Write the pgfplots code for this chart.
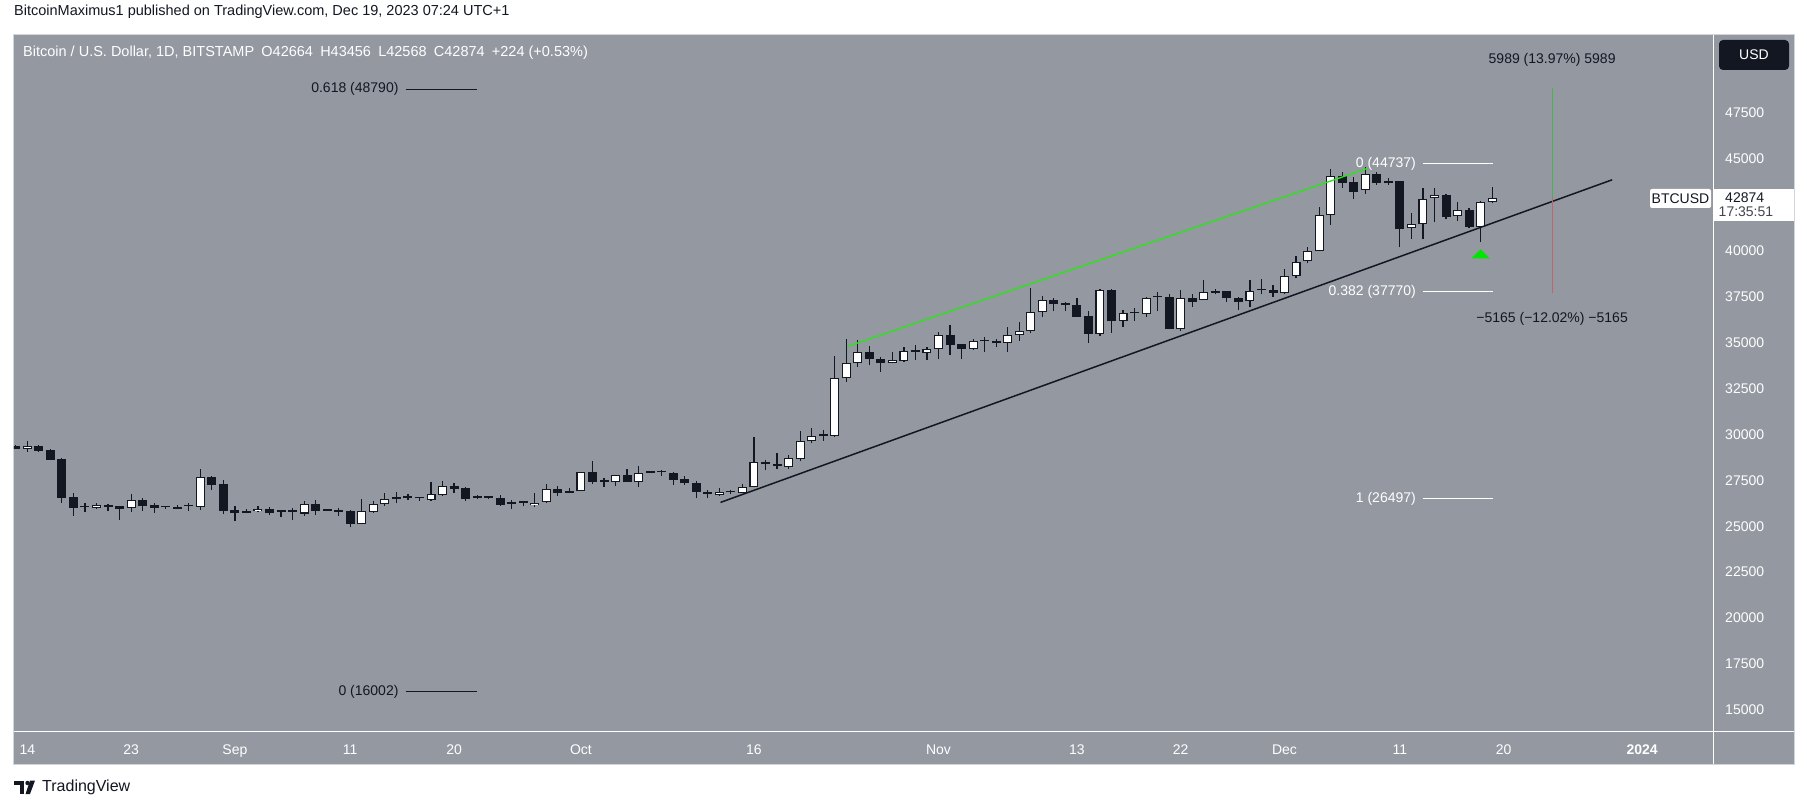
\documentclass[border=0pt]{standalone}
\usepackage{fontspec}
\setmainfont{Liberation Sans}
\usepackage{pgfplots}
\pgfplotsset{compat=1.18}
\usepackage{pgfplotstable}

\definecolor{bg}{RGB}{148,152,161}
\definecolor{cdark}{RGB}{19,23,34}
\definecolor{lime}{RGB}{40,230,20}
\definecolor{tri}{RGB}{0,230,0}
\definecolor{mgreen}{RGB}{76,175,80}
\definecolor{mred}{RGB}{190,100,110}
\definecolor{frame}{RGB}{209,212,220}
\newcommand\ft{\fontsize{14}{16}\selectfont}
\newcommand\fth{\fontsize{14.5}{16}\selectfont}

\pgfplotstableread{
d o h l c
0 29220 29620 29060 29350
6 26010 26260 25940 26140
9 26010 26750 25770 26430
15 26060 28110 25880 27660
20 25810 26080 25760 25940
24 25690 26370 25570 26190
29 25100 26480 25100 25830
30 25790 26370 25740 26190
31 26190 26810 26120 26460
32 26460 26860 26250 26570
35 26430 27410 26390 26740
36 26720 27460 26630 27170
44 26140 26810 26060 26280
45 26300 27300 26250 27010
48 26900 27970 26900 27930
51 27390 27770 27210 27770
53 27390 28280 27150 27880
60 26680 27060 26630 26840
62 26790 27300 26790 27120
63 27120 29870 27120 28480
66 28240 28880 28130 28700
67 28680 30180 28570 29620
68 29620 30350 29510 29890
70 29930 34270 29880 33050
71 33050 35190 32870 33870
72 33870 35120 33690 34470
75 33870 34480 33870 34030
76 34010 34770 33960 34520
78 34450 34740 34070 34630
79 34630 35570 34120 35390
82 34670 35210 34590 35060
85 34990 35830 34500 35390
86 35390 36100 35100 35610
87 35610 37950 35500 36640
88 36640 37530 36370 37300
93 35480 37930 35370 37840
95 36170 36770 35860 36590
97 36530 37500 36410 37400
100 35720 37860 35650 37400
102 37310 38400 37310 37730
106 37260 38400 36920 37790
109 37680 39000 37620 38640
110 38640 39710 38530 39400
111 39420 40180 39310 39960
112 39960 42360 39960 41920
113 41920 44430 41420 44060
116 43290 44570 43100 44160
118 43670 43970 43590 43780
120 41220 42030 40650 41430
121 41430 43390 40620 42830
122 42850 43390 41540 43010
124 41870 42650 41630 42200
126 41310 42700 40490 42630
127 42664 43456 42568 42874
}\whitec

\pgfplotstableread{
d o h l c
-1 29370 29420 29200 29220
1 29370 29420 29040 29110
2 29150 29200 28600 28620
3 28660 28710 26280 26550
4 26590 26810 25560 26010
5 26050 26260 25770 26030
7 26150 26210 25850 26060
8 26100 26110 25360 25960
10 26430 26540 25850 26100
11 26150 26260 25740 26010
12 26030 26120 25940 26020
13 26050 26150 25950 25960
14 26100 26240 25850 26090
16 27680 27750 26970 27240
17 27300 27500 25670 25850
18 25880 26100 25300 25740
19 25830 25940 25740 25740
21 25940 26030 25610 25740
22 25830 25840 25520 25790
23 25780 25990 25360 25770
25 26210 26430 25610 25850
26 25880 25900 25830 25850
27 25880 25990 25570 25770
28 25830 25880 24940 25100
33 26570 26740 26430 26560
34 26530 26590 26370 26520
37 27190 27330 26830 27040
38 27080 27150 26390 26500
39 26540 26700 26480 26530
40 26560 26590 26500 26550
41 26540 26680 26100 26170
42 26240 26410 25960 26230
43 26280 26370 26080 26270
46 27010 27190 26650 26830
47 26920 27060 26830 26830
49 27930 28550 27320 27430
50 27440 27610 27150 27430
52 27770 28110 27390 27390
54 27930 28010 27880 27920
55 27940 28060 27720 27930
56 27880 27970 27260 27530
57 27550 27720 27260 27330
58 27330 27460 26520 26840
59 26860 26990 26550 26740
61 26860 26970 26750 26840
64 28480 28600 28060 28370
65 28370 28970 28110 28260
69 29950 30240 29660 29930
73 34470 34810 33760 34120
74 34090 34190 33410 33870
77 34520 34870 34050 34510
80 35390 35950 34340 34880
81 34900 34900 34120 34670
83 35070 35320 34480 35060
84 35000 35210 34770 34990
89 37300 37410 36700 37120
90 37080 37210 36730 37060
91 37040 37410 36370 36410
92 36440 36700 34990 35480
94 37860 37910 35540 36150
96 36590 36860 36170 36580
98 37470 37730 36730 37460
99 37460 37620 35720 35720
101 37400 37620 36920 37220
103 37820 37910 37620 37710
104 37790 37790 37190 37400
105 37400 37500 36770 37190
107 37860 38440 37620 37850
108 37860 38110 37500 37680
114 44060 44270 43430 43700
115 43720 43990 42830 43210
117 44160 44300 43590 43670
119 43780 43780 40180 41200
123 43010 43090 41710 41850
125 42200 42310 41250 41310
}\blackc

\pgfplotsset{candle/.style={draw=none, mark=none, forget plot, mark options={draw=none,fill=none},
  error bars/.cd, y dir=plus, y explicit, error mark=none}}

\begin{document}
\begin{tikzpicture}[x=1pt,y=1pt]
\path[use as bounding box] (0,0) rectangle (1807,809);
\fill[white] (0,0) rectangle (1807,809);
\fill[bg] (13.8,45) rectangle (1794,774.4);
\draw[frame, line width=1pt] (13.8,45) rectangle (1794,774.4);
\draw[white, line width=1.2pt] (1713.6,45) -- (1713.6,774.4);
\draw[white, line width=1.2pt] (13.8,77.2) -- (1794,77.2);

\node[anchor=west, inner sep=0, text=cdark, font=\fth] at (14,797.5) {BitcoinMaximus1 published on TradingView.com, Dec 19, 2023 07:24 UTC+1};
\node[anchor=west, inner sep=0, text=white, font=\fth] at (23,756) {Bitcoin / U.S. Dollar, 1D, BITSTAMP\enspace O42664\enspace H43456\enspace L42568\enspace C42874\enspace +224 (+0.53\%)};

\begin{axis}[at={(13.8pt,77.2pt)}, anchor=south west, scale only axis,
  width=1699.8pt, height=697.2pt,
  xmin=-1.17, xmax=146.2, ymin=13808, ymax=51763,
  axis line style={draw=none}, tick style={draw=none}, major tick length=0pt,
  yticklabel pos=right, scaled y ticks=false, scaled x ticks=false,
  ytick={15000,17500,20000,22500,25000,27500,30000,32500,35000,37500,40000,45000,47500},
  /pgf/number format/1000 sep={}, /pgf/number format/assume math mode=true,
  yticklabel style={anchor=west, inner sep=0pt, xshift=11.4pt, text=white, font=\ft},
  xtick={0,9,18,28,37,48,63,79,91,100,109,119,128,140},
  xticklabels={14,23,Sep,11,20,Oct,16,Nov,13,22,Dec,11,20,\textbf{2024}},
  xticklabel style={anchor=base, inner sep=0pt, yshift=-22.4pt, text=white, font=\ft},
]
% wicks
\addplot[candle, error bar style={line width=1.2pt, draw=cdark}]
  table[x=d, y=l, y error plus expr={\thisrow{h}-\thisrow{l}}] {\whitec};
\addplot[candle, error bar style={line width=1.2pt, draw=cdark}]
  table[x=d, y=l, y error plus expr={\thisrow{h}-\thisrow{l}}] {\blackc};
% bodies
\addplot[candle, error bar style={line width=9pt, draw=cdark}]
  table[x=d, y expr={min(\thisrow{o},\thisrow{c})}, y error plus expr={max(abs(\thisrow{c}-\thisrow{o}),90)}] {\blackc};
\addplot[candle, error bar style={line width=9pt, draw=cdark}]
  table[x=d, y=o, y error plus expr={max(\thisrow{c}-\thisrow{o},90)}] {\whitec};
\addplot[candle, error bar style={line width=6.8pt, draw=white}]
  table[x=d, y expr={\thisrow{o}+58}, y error plus expr={max(\thisrow{c}-\thisrow{o}-116,0)}] {\whitec};

% trend lines
\addplot[cdark, line width=1.5pt] coordinates {(60.1,26296) (137.4,43858)};
\addplot[lime, line width=1.3pt] coordinates {(71.1,34780) (116.2,44480)};

% fib levels
\addplot[cdark, line width=1.2pt] coordinates {(32.8,48790) (39.0,48790)};
\addplot[cdark, line width=1.2pt] coordinates {(32.8,16002) (39.0,16002)};
\addplot[white, line width=1.2pt] coordinates {(121.0,44737) (127.1,44737)};
\addplot[white, line width=1.2pt] coordinates {(121.0,37770) (127.1,37770)};
\addplot[white, line width=1.2pt] coordinates {(121.0,26497) (127.1,26497)};
\node[anchor=east, inner sep=0, text=cdark, font=\ft] at (axis cs:32.2,48790) {0.618 (48790)};
\node[anchor=east, inner sep=0, text=cdark, font=\ft] at (axis cs:32.2,16002) {0 (16002)};
\node[anchor=east, inner sep=0, text=white, font=\ft] at (axis cs:120.4,44737) {0 (44737)};
\node[anchor=east, inner sep=0, text=white, font=\ft] at (axis cs:120.4,37770) {0.382 (37770)};
\node[anchor=east, inner sep=0, text=white, font=\ft] at (axis cs:120.4,26497) {1 (26497)};

% measurement
\addplot[mgreen, line width=0.8pt] coordinates {(132.2,48863) (132.2,42874)};
\addplot[mred, line width=0.8pt] coordinates {(132.2,42874) (132.2,37709)};
\node[inner sep=0, text=cdark, font=\ft] at (axis cs:132.2,50380) {5989 (13.97\%) 5989};
\node[inner sep=0, text=cdark, font=\ft] at (axis cs:132.2,36281) {−5165 (−12.02\%) −5165};

% signal triangle
\addplot[fill=tri, draw=none] coordinates {(125.22,39583) (126.78,39583) (126,40073)} --cycle;
\end{axis}

% price labels
\fill[cdark, rounded corners=4pt] (1719,739) rectangle (1789,769);
\node[text=white, font=\ft] at (1754,754) {USD};
\fill[white, rounded corners=2pt] (1650,601) rectangle (1711,620);
\node[text=cdark, font=\ft] at (1680.5,610.5) {BTCUSD};
\fill[white] (1714,588) rectangle (1794,620);
\node[anchor=west, inner sep=0, text=cdark, font=\ft] at (1725,611) {42874};
\node[anchor=west, inner sep=0, text=cdark!80, font=\ft] at (1718.5,597) {17:35:51};

% footer
\fill[cdark] (14,24) rectangle (24,28.5);
\fill[cdark] (19.5,15) rectangle (24,28.5);
\fill[cdark] (27.5,26) circle (2.2);
\fill[cdark] (30,28.5) -- (35,28.5) -- (30,15) -- (25.5,15) -- cycle;
\node[anchor=west, inner sep=0, text=cdark, font=\fontsize{16}{18}\selectfont] at (42,22) {TradingView};
\end{tikzpicture}
\end{document}
